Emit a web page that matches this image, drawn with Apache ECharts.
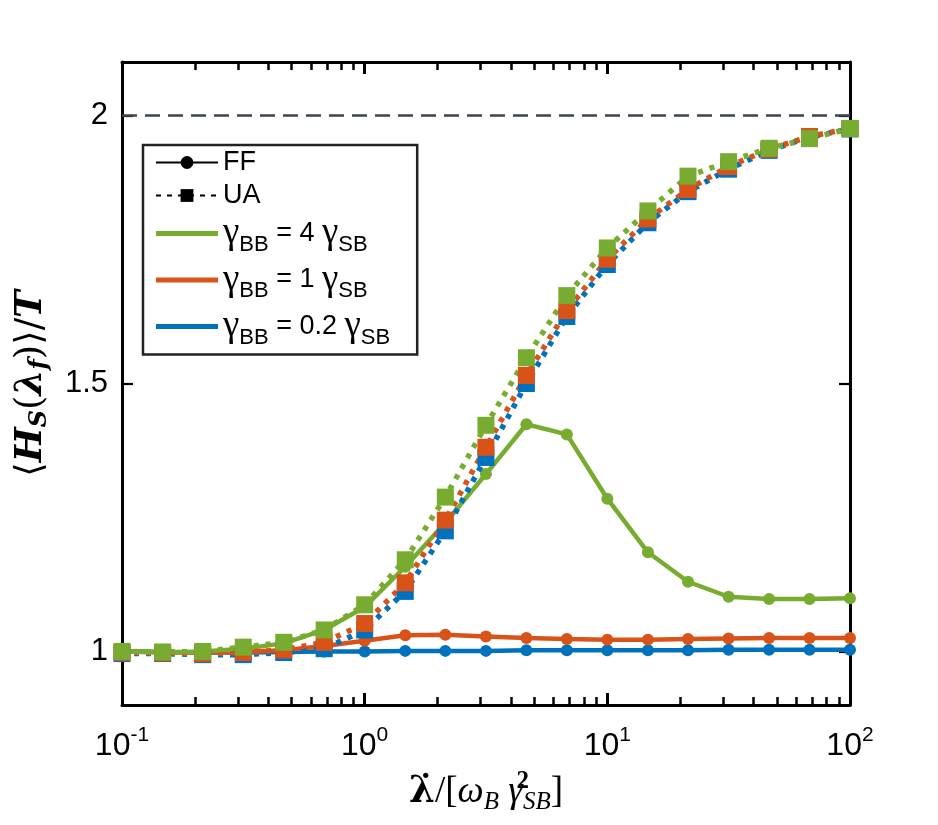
<!DOCTYPE html>
<html>
<head>
<meta charset="utf-8">
<script src="https://cdn.jsdelivr.net/npm/echarts@6/dist/echarts.min.js"></script>
<style>
  html, body { margin: 0; padding: 0; background: #fff; }
  #chart { width: 938px; height: 825px; }
</style>
</head>
<body>
<div id="chart"></div>
<script>
// rate values (x axis, log scale)
var rates = [0.1, 0.147, 0.215, 0.316, 0.464, 0.681, 1, 1.47, 2.15, 3.16, 4.64, 6.81, 10, 14.7, 21.5, 31.6, 46.4, 68.1, 100];

// FF (solid, circles)
var ffGreen = [1.0, 0.998, 1.0, 1.005, 1.015, 1.04, 1.083, 1.158, 1.24, 1.331, 1.424, 1.405, 1.285, 1.185, 1.13, 1.102, 1.098, 1.098, 1.099];
var ffOrange = [1.0, 0.999, 0.998, 0.999, 1.002, 1.01, 1.02, 1.03, 1.031, 1.028, 1.025, 1.023, 1.022, 1.022, 1.023, 1.024, 1.025, 1.025, 1.025];
var ffBlue = [1.0, 0.999, 0.998, 0.998, 0.999, 1.0, 1.0, 1.001, 1.001, 1.001, 1.002, 1.002, 1.002, 1.002, 1.002, 1.003, 1.003, 1.003, 1.003];

// UA (dotted, squares)
var uaGreen = [1.0, 0.999, 1.0, 1.008, 1.017, 1.04, 1.087, 1.171, 1.288, 1.422, 1.548, 1.664, 1.753, 1.822, 1.887, 1.914, 1.939, 1.957, 1.976];
var uaOrange = [0.998, 0.997, 0.996, 0.998, 1.003, 1.017, 1.052, 1.128, 1.245, 1.381, 1.515, 1.636, 1.732, 1.807, 1.862, 1.905, 1.937, 1.961, 1.976];
var uaBlue = [0.996, 0.996, 0.994, 0.994, 0.998, 1.005, 1.04, 1.112, 1.225, 1.362, 1.5, 1.625, 1.722, 1.8, 1.858, 1.9, 1.935, 1.96, 1.975];

var yTicks = [1, 1.5, 2];
var limitLevel = 2;
var yMin = 0.9, yMax = 2.1;

var GREEN = '#77AC30', ORANGE = '#D95319', BLUE = '#0072BD';

function pairs(arr) {
  return rates.map(function (x, i) { return [x, arr[i]]; });
}

function ffSeries(name, color, arr) {
  return {
    name: name, type: 'line', data: pairs(arr),
    symbol: 'circle', symbolSize: 12,
    itemStyle: { color: color },
    lineStyle: { color: color, width: 4.5 },
    z: 3
  };
}
function uaSeries(name, color, arr) {
  return {
    name: name, type: 'line', data: pairs(arr),
    symbol: 'rect', symbolSize: 17,
    itemStyle: { color: color },
    lineStyle: { color: color, width: 5.5, type: [5, 7], cap: 'butt' },
    z: 4
  };
}

var chart = echarts.init(document.getElementById('chart'));

var legendText = {
  'FF': '{t|FF}',
  'UA': '{t|UA}',
  'g4': '{g|γ}{s|BB}{t| = 4 }{g|γ}{s|SB}',
  'g1': '{g|γ}{s|BB}{t| = 1 }{g|γ}{s|SB}',
  'g02': '{g|γ}{s|BB}{t| = 0.2 }{g|γ}{s|SB}'
};
var barIcon = 'path://M0,0H62V5H0Z';

var option = {
  backgroundColor: '#fff',
  animation: false,
  grid: { left: 122, right: 88, top: 62, bottom: 120 },
  legend: {
    orient: 'vertical',
    left: 143, top: 145,
    padding: [4, 27, 6, 12],
    itemGap: 6,
    itemWidth: 62, itemHeight: 16,
    borderColor: '#222', borderWidth: 2.5,
    backgroundColor: '#fff',
    selectedMode: false,
    data: [
      { name: 'FF' },
      { name: 'UA' },
      { name: 'g4', icon: barIcon },
      { name: 'g1', icon: barIcon },
      { name: 'g02', icon: barIcon }
    ],
    formatter: function (name) { return legendText[name]; },
    textStyle: {
      rich: {
        t: { fontFamily: 'Liberation Sans', fontSize: 27, color: '#000' },
        g: { fontFamily: 'Liberation Serif', fontSize: 37, color: '#000' },
        s: { fontFamily: 'Liberation Sans', fontSize: 22, color: '#000', padding: [22, 0, 0, 0] }
      }
    }
  },
  xAxis: [{
    type: 'log', logBase: 10, min: 0.1, max: 100,
    position: 'bottom',
    axisLine: { show: true, lineStyle: { color: '#000', width: 3 } },
    axisTick: { show: true, inside: true, length: 12, lineStyle: { color: '#000', width: 3 } },
    minorTick: { show: true, splitNumber: 9, length: 8, lineStyle: { color: '#000', width: 2.5 } },
    splitLine: { show: false },
    axisLabel: {
      margin: 20,
      formatter: function (v) {
        var e = Math.round(Math.log10(v));
        return '{b|10}{p|' + e + '}';
      },
      rich: {
        b: { fontFamily: 'Liberation Sans', fontSize: 32, color: '#000' },
        p: { fontFamily: 'Liberation Sans', fontSize: 21, color: '#000', padding: [0, 0, 22, 0] }
      }
    },
    name: '{l|λ̇}{n|/[}{w|ω}{sb|B}{n| }{w|γ}{sp|2}{sb|SB}{n|]}',
    nameLocation: 'middle',
    nameGap: 64,
    nameTextStyle: {
      rich: {
        l: { fontFamily: 'DejaVu Serif', fontWeight: 'bold', fontSize: 37, color: '#000' },
        n: { fontFamily: 'Liberation Serif', fontSize: 37, color: '#000' },
        w: { fontFamily: 'Liberation Serif', fontStyle: 'italic', fontSize: 37, color: '#000' },
        sb: { fontFamily: 'Liberation Serif', fontStyle: 'italic', fontSize: 25, color: '#000', padding: [20, 0, 0, 0] },
        sp: { fontFamily: 'Liberation Serif', fontWeight: 'bold', fontSize: 25, color: '#000', width: 0.1, padding: [0, 0, 22, 0] }
      }
    }
  }, {
    type: 'log', logBase: 10, min: 0.1, max: 100,
    position: 'top',
    axisLine: { show: true, lineStyle: { color: '#000', width: 3 } },
    axisTick: { show: true, inside: true, length: 12, lineStyle: { color: '#000', width: 3 } },
    minorTick: { show: true, splitNumber: 9, length: 8, lineStyle: { color: '#000', width: 2.5 } },
    splitLine: { show: false },
    axisLabel: { show: false }
  }],
  yAxis: [{
    type: 'value', min: yMin, max: yMax,
    position: 'left',
    axisLine: { show: true, lineStyle: { color: '#000', width: 3 } },
    axisTick: { show: true, inside: true, length: 11, customValues: yTicks, lineStyle: { color: '#000', width: 2.2 } },
    splitLine: { show: false },
    axisLabel: {
      margin: 14,
      customValues: yTicks,
      fontFamily: 'Liberation Sans', fontSize: 31, color: '#000',
      formatter: function (v) { return String(v); }
    },
    name: '{b|⟨}{h|H}{s|S}{b|(}{h|λ}{s|f}{b|)⟩/}{h|T}',
    nameLocation: 'middle',
    nameRotate: 90,
    nameGap: 70,
    nameTextStyle: {
      rich: {
        b: { fontFamily: 'DejaVu Serif', fontSize: 37, color: '#000' },
        h: { fontFamily: 'DejaVu Serif', fontWeight: 'bold', fontStyle: 'italic', fontSize: 37, color: '#000' },
        s: { fontFamily: 'DejaVu Serif', fontWeight: 'bold', fontStyle: 'italic', fontSize: 24, color: '#000', padding: [18, 0, 0, 0] }
      }
    }
  }, {
    type: 'value', min: yMin, max: yMax,
    position: 'right',
    axisLine: { show: true, lineStyle: { color: '#000', width: 3 } },
    axisTick: { show: true, inside: true, length: 11, customValues: yTicks, lineStyle: { color: '#000', width: 2.2 } },
    splitLine: { show: false },
    axisLabel: { show: false }
  }],
  series: [
    // legend-only entries
    { name: 'FF', type: 'line', data: [], symbol: 'circle', symbolSize: 12,
      itemStyle: { color: '#000' }, lineStyle: { color: '#000', width: 4 } },
    { name: 'UA', type: 'line', data: [], symbol: 'rect', symbolSize: 16,
      itemStyle: { color: '#000' }, lineStyle: { color: '#000', width: 5.5, type: [5, 6] } },
    { name: 'g4', type: 'line', data: [], symbol: 'none', itemStyle: { color: GREEN }, lineStyle: { color: GREEN } },
    { name: 'g1', type: 'line', data: [], symbol: 'none', itemStyle: { color: ORANGE }, lineStyle: { color: ORANGE } },
    { name: 'g02', type: 'line', data: [], symbol: 'none', itemStyle: { color: BLUE }, lineStyle: { color: BLUE } },

    // limit line
    {
      name: 'limit', type: 'line', silent: true, symbol: 'none',
      data: [[rates[0], limitLevel], [rates[rates.length - 1], limitLevel]],
      lineStyle: { color: '#3c4450', width: 2.5, type: [15, 8] },
      z: 1
    },

    ffSeries('ffBlue', BLUE, ffBlue),
    ffSeries('ffOrange', ORANGE, ffOrange),
    ffSeries('ffGreen', GREEN, ffGreen),
    uaSeries('uaBlue', BLUE, uaBlue),
    uaSeries('uaOrange', ORANGE, uaOrange),
    uaSeries('uaGreen', GREEN, uaGreen)
  ]
};

try {
  chart.setOption(option);
} catch (err) {
  chart.setOption({ graphic: [{ type: 'text', left: 300, top: 20, z: 200,
    style: { text: 'ERR ' + err.message, fontSize: 14, fill: 'red' } }] });
}
</script>
</body>
</html>
